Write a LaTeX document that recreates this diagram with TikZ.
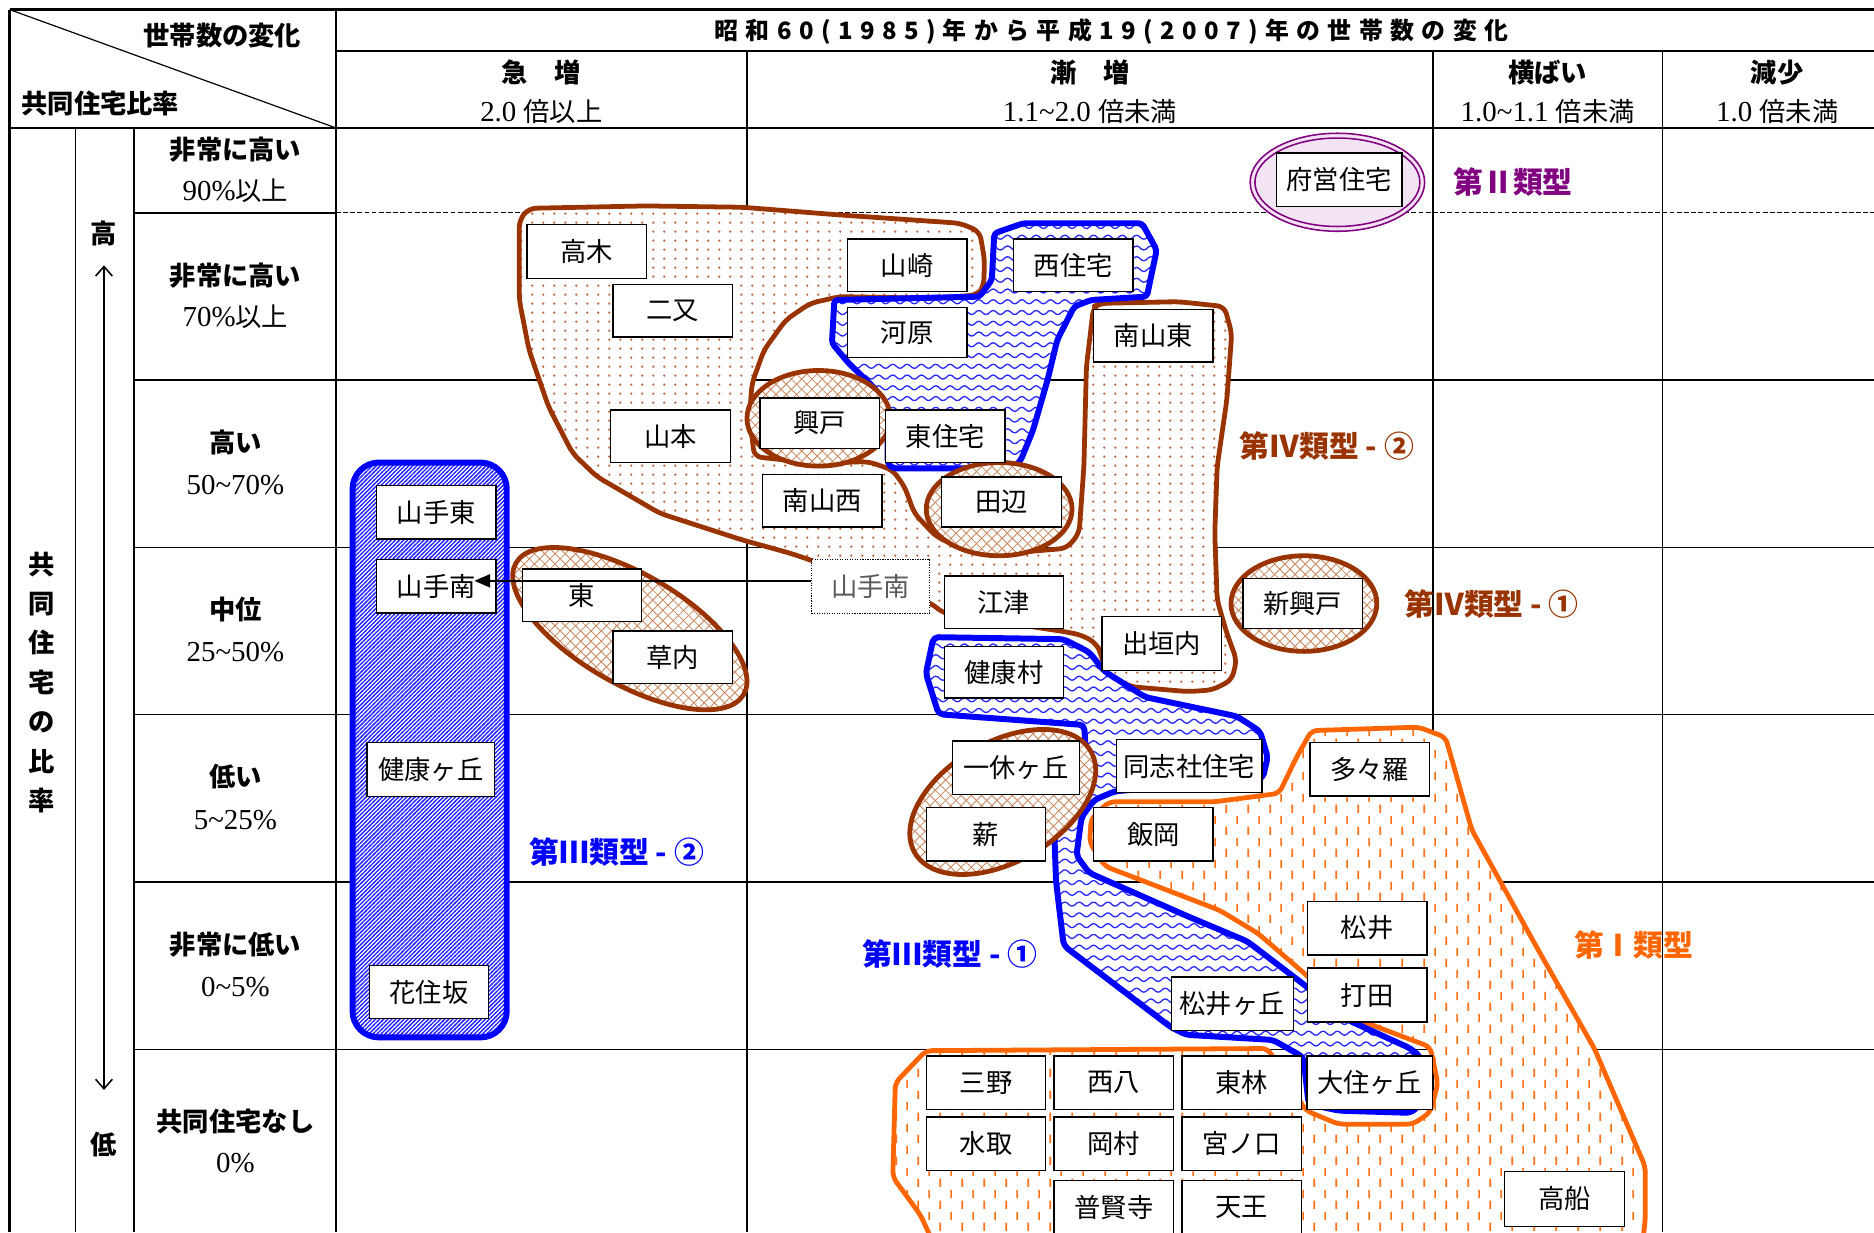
\documentclass[tikz,border=0pt]{standalone}
\usepackage{fontspec}
\setmainfont{Noto Sans CJK JP}
\newfontfamily\lserif[Scale=1.1]{Liberation Serif}
\usetikzlibrary{patterns,arrows.meta}

\definecolor{bluec}{RGB}{0,0,255}
\definecolor{bluepat}{RGB}{40,40,255}
\definecolor{brownc}{RGB}{153,51,0}
\definecolor{browndot}{RGB}{190,95,55}
\definecolor{brownx}{RGB}{200,135,95}
\definecolor{orangec}{RGB}{255,102,0}
\definecolor{orangepat}{RGB}{255,112,20}
\definecolor{purplec}{RGB}{128,0,128}
\definecolor{purplefill}{RGB}{243,228,243}
\definecolor{graytext}{RGB}{90,90,90}

\pgfdeclarepatternformonly{bdots}{\pgfqpoint{0pt}{0pt}}{\pgfqpoint{9pt}{7.5pt}}{\pgfqpoint{9pt}{7.5pt}}{%
  \pgfpathcircle{\pgfqpoint{4.5pt}{3.75pt}}{1.05pt}\pgfusepath{fill}}
\pgfdeclarepatternformonly{bxhatch}{\pgfqpoint{-1pt}{-1pt}}{\pgfqpoint{9.6pt}{9.6pt}}{\pgfqpoint{8.6pt}{8.6pt}}{%
  \pgfsetlinewidth{0.7pt}%
  \pgfpathmoveto{\pgfqpoint{0pt}{0pt}}\pgfpathlineto{\pgfqpoint{8.6pt}{8.6pt}}%
  \pgfpathmoveto{\pgfqpoint{0pt}{8.6pt}}\pgfpathlineto{\pgfqpoint{8.6pt}{0pt}}%
  \pgfusepath{stroke}}
\pgfdeclarepatternformonly{bstripe}{\pgfqpoint{-1pt}{-1pt}}{\pgfqpoint{4.5pt}{4.5pt}}{\pgfqpoint{3.4pt}{3.4pt}}{%
  \pgfsetlinewidth{1.1pt}%
  \pgfpathmoveto{\pgfqpoint{-0.5pt}{-0.5pt}}\pgfpathlineto{\pgfqpoint{3.9pt}{3.9pt}}%
  \pgfusepath{stroke}}
\pgfdeclarepatternformonly{bwave}{\pgfqpoint{-0.6pt}{0pt}}{\pgfqpoint{12.6pt}{9pt}}{\pgfqpoint{12pt}{9pt}}{%
  \pgfsetlinewidth{1.1pt}%
  \pgfpathmoveto{\pgfqpoint{0pt}{4.5pt}}%
  \pgfpathcurveto{\pgfqpoint{2pt}{6.7pt}}{\pgfqpoint{4pt}{6.7pt}}{\pgfqpoint{6pt}{4.5pt}}%
  \pgfpathcurveto{\pgfqpoint{8pt}{2.3pt}}{\pgfqpoint{10pt}{2.3pt}}{\pgfqpoint{12pt}{4.5pt}}%
  \pgfusepath{stroke}}
\pgfdeclarepatternformonly{odash}{\pgfqpoint{0pt}{0pt}}{\pgfqpoint{18.2pt}{18.2pt}}{\pgfqpoint{18.2pt}{18.2pt}}{%
  \pgfsetlinewidth{1.4pt}%
  \pgfpathmoveto{\pgfqpoint{4.5pt}{1pt}}\pgfpathlineto{\pgfqpoint{4.5pt}{8pt}}%
  \pgfpathmoveto{\pgfqpoint{13.6pt}{10.1pt}}\pgfpathlineto{\pgfqpoint{13.6pt}{17.1pt}}%
  \pgfusepath{stroke}}

\begin{document}
\begin{tikzpicture}[x=1pt,y=-1pt,
  bx/.style={draw=black, line width=1.1pt, fill=white, minimum width=100pt, minimum height=44pt, inner sep=0pt, font=\fontsize{22}{22}\selectfont},
  hd/.style={inner sep=0pt, font=\fontsize{22}{22}\selectfont\bfseries},
  sr/.style={inner sep=0pt, font=\fontsize{22}{22}\selectfont},
  lab/.style={inner sep=0pt, font=\fontsize{25}{25}\selectfont\bfseries},
  thickline/.style={line width=1.8pt},
  gline/.style={line width=1.3pt},
  bregion/.style={draw=brownc, line width=4pt, line join=round, rounded corners=6pt, preaction={fill=white}, pattern=bdots, pattern color=browndot},
  xell/.style={draw=brownc, line width=4pt, preaction={fill=white}, pattern=bxhatch, pattern color=brownx},
  bwregion/.style={draw=bluec, line width=5pt, line join=round, rounded corners=3pt, preaction={fill=white}, pattern=bwave, pattern color=bluepat},
  bsregion/.style={draw=bluec, line width=5pt, rounded corners=22pt, preaction={fill=white}, pattern=bstripe, pattern color=bluepat},
  oregion/.style={draw=orangec, line width=4pt, line join=round, rounded corners=5pt, preaction={fill=white}, pattern=odash, pattern color=orangepat}
]
\useasboundingbox (0,0) rectangle (1568,1031);
\begin{scope}
\clip (0,0) rectangle (1568,1031);

% ---------- table grid ----------
\draw[thickline] (8,8) -- (1568,8);
\draw[thickline] (281,43) -- (1568,43);
\draw[thickline] (8,107) -- (1568,107);
\draw[thickline] (8,8) -- (8,1031);
\draw[thickline] (281,8) -- (281,1031);
\draw[gline] (625,43) -- (625,1031);
\draw[gline] (1199,43) -- (1199,1031);
\draw[gline] (1391,43) -- (1391,1031);
\draw[gline] (63,107) -- (63,1031);
\draw[gline] (112,107) -- (112,1031);
\draw[line width=1pt] (8,8) -- (281,107);
\draw[gline] (112,178) -- (281,178);
\draw[line width=1pt, dash pattern=on 4pt off 2pt] (281,178) -- (1568,178);
\foreach \yy in {318,458,598,738,878} { \draw[gline] (112,\yy) -- (1568,\yy); }

% ---------- Type I (orange) ----------
\draw[oregion] (927.7,670.9) -- (1015.8,670.9) -- (1070.2,663.8) -- (1084.6,634) -- (1097.4,611.3)
  -- (1187,608.4) -- (1209.5,616.9) -- (1231.5,694.4) -- (1287,794.8) -- (1334,877.3)
  -- (1376.6,976.1) -- (1376.6,1020.7) -- (1372,1060) -- (790,1060) -- (770.4,1017)
  -- (747,984.9) -- (749.1,906) -- (774.7,879.1) -- (1060.7,877.3) -- (1092.6,929.2)
  -- (1119.9,940.6) -- (1182.3,940.6) -- (1196.7,930.6) -- (1203.1,906.5) -- (1196.7,876)
  -- (1133,852) -- (1092,815) -- (1052.6,781) -- (1020.6,761.7) -- (924.5,724.8)
  -- (911.7,705) -- (913,685) -- cycle;

% ---------- Type IV-2 (brown dotted) ----------
\draw[bregion] (442.6,174.3) -- (540,172.3) -- (621,173.4) -- (702,179.8) -- (803.5,186.8)
  -- (819.7,193.8) -- (823.8,217.5) -- (823,239.8) -- (817.7,246.8) -- (783.3,249.6)
  -- (702.2,248.2) -- (677.8,253.8) -- (657.5,267.7) -- (639.3,292.8) -- (629.2,320.7)
  -- (627.1,348.6) -- (631.2,382.1) -- (681.9,387.6) -- (726.5,386.2) -- (746.8,393.2)
  -- (756.9,407.2) -- (765,429.5) -- (783.3,449) -- (807.6,460.1) -- (844.1,462.9)
  -- (892.7,458.7) -- (902.9,446.2) -- (906.9,390.4) -- (909,306.8) -- (915,256.5)
  -- (921.1,253.8) -- (986,252.4) -- (1024.5,256.5) -- (1030.6,278.9) -- (1026.5,334.6)
  -- (1018.4,390.4) -- (1016.4,446.2) -- (1018.4,502) -- (1026.5,529.9) -- (1034.7,552.2)
  -- (1030.6,569) -- (1014.4,577.3) -- (994.1,578.7) -- (945.5,574.5) -- (925.2,563.3)
  -- (921.1,546.6) -- (917.1,538.2) -- (904.9,531.3) -- (890.7,528.5) -- (789.3,513.1)
  -- (779.2,504.8) -- (677.8,468.5) -- (661.6,463) -- (621.1,451.8) -- (552.1,429.5)
  -- (499.4,398.8) -- (479.1,379.3) -- (458.9,340.2) -- (442.6,292.8) -- (434.5,251)
  -- (434.5,184) -- cycle;

% ---------- Type III-1 upper (blue wave) ----------
\draw[bwregion] (698.1,251) -- (696.1,287.2) -- (710.2,304) -- (730.5,323.5) -- (742.7,340.2)
  -- (742.7,387.6) -- (746.8,391.8) -- (848.1,391.8) -- (854.2,384.8) -- (864.4,359.7)
  -- (876.5,317.9) -- (884.6,284.4) -- (898.8,256.5) -- (913,251) -- (959.6,248.2)
  -- (967.8,209.1) -- (955.6,186.8) -- (856.2,186.8) -- (831.9,195.2) -- (829.9,234.2)
  -- (819.7,248.2) -- cycle;

% ---------- Type III-1 lower band (blue wave) ----------
\draw[bwregion, rounded corners=4pt] (781.1,533.1) -- (890,534.8) -- (911.3,545.6) -- (924.1,561.7)
  -- (958.3,583.3) -- (1035.1,599.4) -- (1054.3,611.9) -- (1060.7,633.5) -- (1056.5,651.4)
  -- (932.7,662.1) -- (915.6,669.3) -- (904.9,683.7) -- (900.7,715.9) -- (911.3,730.3)
  -- (992.4,766.1) -- (1043.7,787.7) -- (1090.6,823.5) -- (1129,854) -- (1180.3,877.3)
  -- (1188.8,884.5) -- (1188.8,923.9) -- (1180.3,931.1) -- (1120.5,929.3) -- (1094.9,923.9)
  -- (1090.6,884.5) -- (1065,870.1) -- (992.4,865.8) -- (979.6,859.4) -- (890,791.2)
  -- (883.6,737.4) -- (882.3,701.6) -- (890,680.1) -- (904.9,658.5) -- (909.2,637)
  -- (907.1,606.6) -- (785.4,597.6) -- (774.7,563.5) -- cycle;

% ---------- Type III-2 (blue stripes) ----------
\draw[bsregion] (295,387) rectangle (424,868);

% ---------- Type IV-1 ellipses (brown crosshatch) ----------
\draw[xell, shift={(527,526)}, rotate=-30] (0,0) ellipse [x radius=110, y radius=46];
\draw[xell] (685,350) ellipse [x radius=60, y radius=40];
\draw[xell] (836,426) ellipse [x radius=61, y radius=39];
\draw[xell] (1091,505) ellipse [x radius=61, y radius=40];
\draw[xell, shift={(839,671)}, rotate=30] (0,0) ellipse [x radius=85, y radius=50];

% ---------- Type II (purple) ----------
\draw[purplec, line width=1.3pt, fill=purplefill] (1119,152.5) ellipse [x radius=73, y radius=41];
\draw[purplec, line width=1.3pt] (1119,152.5) ellipse [x radius=69, y radius=37];

% ---------- boxes ----------
\node[bx, minimum width=105pt, minimum height=45pt] (fuei) at (1120.5,150.5) {府営住宅};
\node[bx, minimum height=45pt] (takagi) at (491,210.5) {高木};
\node[bx] (futamata) at (563,260) {二又};
\node[bx] (yamazaki) at (759,222) {山崎};
\node[bx] (nishijutaku) at (898,222) {西住宅};
\node[bx, minimum height=42pt] (kawahara) at (759,278) {河原};
\node[bx] (minamiyamahigashi) at (965,281) {南山東};
\node[bx] (yamamoto) at (561,365) {山本};
\node[bx, minimum height=42pt] (kodo) at (686,354) {興戸};
\node[bx] (higashijutaku) at (791,365) {東住宅};
\node[bx] (minamiyamanishi) at (688,419) {南山西};
\node[bx, minimum height=42pt] (tanabe) at (838,420) {田辺};
\node[bx, minimum height=45pt] (yamatehigashi) at (365,428.5) {山手東};
\node[bx, minimum height=45pt] (yamateminami) at (365,490.5) {山手南};
\node[bx] (higashi) at (487,498) {東};
\node[bx, minimum height=45pt, minimum width=99pt, densely dotted, line width=1pt, text=graytext] (ytmdash) at (728.5,490.5) {山手南};
\node[bx] (gouzu) at (840,504) {江津};
\node[bx, minimum height=45pt] (degaito) at (972,538.5) {出垣内};
\node[bx, minimum height=42pt] (shinkodo) at (1090,505) {新興戸};
\node[bx, minimum height=44pt] (kusauchi) at (563,550) {草内};
\node[bx, minimum height=43pt] (kenkomura) at (840,562.5) {健康村};
\node[bx, minimum width=107pt, minimum height=45pt] (kenkogaoka) at (360.5,644) {健康ヶ丘};
\node[bx, minimum width=106pt, minimum height=45pt] (ikkyu) at (850,642.5) {一休ヶ丘};
\node[bx, minimum width=122pt, minimum height=44pt] (doshisha) at (995,641) {同志社住宅};
\node[bx, minimum height=45pt] (tatara) at (1146,643.5) {多々羅};
\node[bx, minimum height=45pt] (takigi) at (825,698) {薪};
\node[bx, minimum height=45pt] (iioka) at (965,698) {飯岡};
\node[bx, minimum height=45pt] (matsui) at (1144,776.5) {松井};
\node[bx, minimum height=45pt] (uchida) at (1144,832.5) {打田};
\node[bx] (kasumizaka) at (359,830) {花住坂};
\node[bx, minimum width=102pt, minimum height=45pt] (matsuigaoka) at (1031,840) {松井ヶ丘};
\node[bx, minimum height=45pt] (mino) at (825,906) {三野};
\node[bx, minimum height=45pt] (nishihachi) at (932,906) {西八};
\node[bx, minimum height=45pt] (higashibayashi) at (1039,906) {東林};
\node[bx, minimum height=45pt, minimum width=105pt] (osumi) at (1146,906) {大住ヶ丘};
\node[bx, minimum height=45pt] (mizutori) at (825,957) {水取};
\node[bx, minimum height=45pt] (okamura) at (932,957) {岡村};
\node[bx, minimum height=45pt] (miyanokuchi) at (1039,957) {宮ノ口};
\node[bx, minimum height=45pt] (fugenji) at (932,1010) {普賢寺};
\node[bx, minimum height=45pt] (tenno) at (1039,1010) {天王};
\node[bx, minimum height=46pt] (takafune) at (1309,1003) {高船};

% ---------- arrow 山手南 ----------
\coordinate (ytip) at (397,486);
\draw[line width=1.2pt, -{Triangle[length=13pt,width=11pt]}] (ytmdash.west |- ytip) -- (ytip);

% ---------- type labels ----------
\node[lab, text=purplec] (t2) at (1266,152) {第Ⅱ類型};
\node[lab, text=brownc] (t42) at (1110,373) {第Ⅳ類型 - ②};
\node[lab, text=brownc] (t41) at (1248,505) {第Ⅳ類型 - ①};
\node[lab, text=bluec] (t32) at (516,713) {第Ⅲ類型 - ②};
\node[lab, text=bluec] (t31) at (795,798) {第Ⅲ類型 - ①};
\node[lab, text=orangec] (t1) at (1367,791) {第Ⅰ類型};

% ---------- header ----------
\node[inner sep=0pt, font=\fontsize{20}{20}\selectfont\bfseries\addfontfeature{LetterSpace=31}] (title) at (930,26) {昭和60(1985)年から平成19(2007)年の世帯数の変化};
\node[hd] (h1) at (453,61) {急\hspace{1em}増};
\node[sr] (h1b) at (453,93) {{\lserif 2.0 }倍以上};
\node[hd] (h2) at (912,61) {漸\hspace{1em}増};
\node[sr] (h2b) at (912,93) {{\lserif 1.1\textasciitilde 2.0 }倍未満};
\node[hd] (h3) at (1295,61) {横ばい};
\node[sr] (h3b) at (1295,93) {{\lserif 1.0\textasciitilde 1.1 }倍未満};
\node[hd] (h4) at (1487,61) {減少};
\node[sr] (h4b) at (1487,93) {{\lserif 1.0 }倍未満};
\node[hd] (c1) at (186,30) {世帯数の変化};
\node[hd] (c2) at (84,87) {共同住宅比率};

% ---------- row labels ----------
\node[hd] (r1a) at (197,125) {非常に高い};
\node[sr] (r1b) at (197,160) {{\lserif 90\%}以上};
\node[hd] (r2a) at (197,231) {非常に高い};
\node[sr] (r2b) at (197,265) {{\lserif 70\%}以上};
\node[hd] (r3a) at (197,370) {高い};
\node[sr] (r3b) at (197,406) {\lserif 50\textasciitilde 70\%};
\node[hd] (r4a) at (197,510) {中位};
\node[sr] (r4b) at (197,546) {\lserif 25\textasciitilde 50\%};
\node[hd] (r5a) at (197,650) {低い};
\node[sr] (r5b) at (197,686) {\lserif 5\textasciitilde 25\%};
\node[hd] (r6a) at (197,790) {非常に低い};
\node[sr] (r6b) at (197,826) {\lserif 0\textasciitilde 5\%};
\node[hd] (r7a) at (197,938) {共同住宅なし};
\node[sr] (r7b) at (197,973) {\lserif 0\%};

\node[hd, align=center, font=\fontsize{22}{33}\selectfont\bfseries] (vt) at (35,571) {共\\同\\住\\宅\\の\\比\\率};
\node[hd] (hi) at (87,195) {高};
\node[hd] (lo) at (87,958) {低};
\coordinate (atop) at (87,222);
\coordinate (abot) at (87,912);
\draw[line width=1.3pt, {Straight Barb[length=8pt,width=14pt]}-{Straight Barb[length=8pt,width=14pt]}] (atop) -- (abot);

\end{scope}
\end{tikzpicture}
\end{document}
